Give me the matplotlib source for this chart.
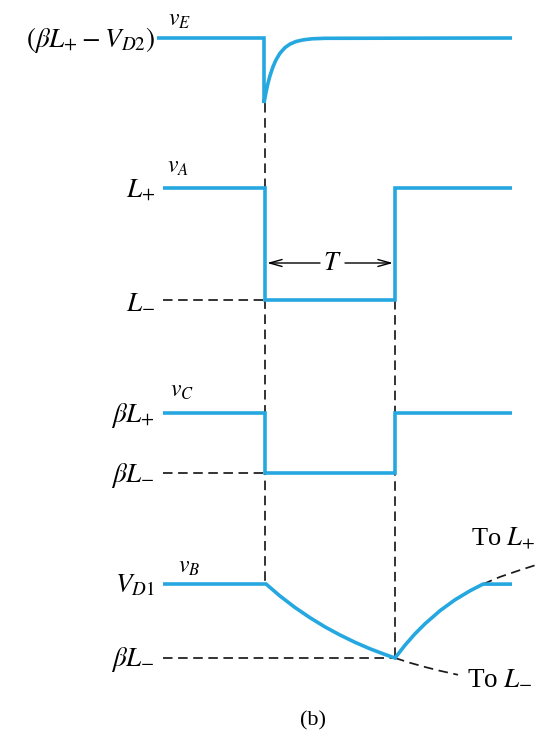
import matplotlib
matplotlib.use("Agg")
import matplotlib.pyplot as plt

plt.rcParams['mathtext.fontset'] = 'stix'
plt.rcParams['font.family'] = ['Liberation Serif', 'DejaVu Serif']

BLUE = '#25a8e0'
DASH = '#1a1a1a'

# time marks: trigger edge and end of the quasi-stable interval T
t_trig = 265
t_back = 395

# v_E: short negative spike at the trigger, then recovery
vE_t = [157, 264, 264, 266, 268, 270, 273, 276, 280, 285, 290, 296, 303, 312, 325, 512]
vE_y = [38, 38, 103, 92.2, 83.2, 75.7, 66.7, 59.9, 53.2, 47.6, 44.1, 41.5, 39.9, 38.8, 38.3, 38]

# v_A: L+ -> L- for T, then back
vA_t = [163, 265, 265, 395, 395, 512]
vA_y = [188, 188, 300, 300, 188, 188]

# v_C: beta L+ -> beta L-
vC_t = [163, 265, 265, 395, 395, 512]
vC_y = [413, 413, 473, 473, 413, 413]

# v_B: V_D1, exponential fall toward L-, then exponential rise toward L+
vB_t = [163, 266, 280, 295, 310, 325, 340, 355, 370, 385, 395,
        405, 415, 425, 440, 455, 470, 483, 512]
vB_y = [584, 584, 596.0, 607.5, 617.7, 626.9, 635.0, 642.3, 648.8, 654.5, 658,
        645.2, 633.8, 623.8, 610.7, 599.8, 590.8, 584.1, 584.1]

# asymptote continuations of v_B
toLm_t = [395, 410, 425, 440, 458]
toLm_y = [658, 662.8, 667.0, 670.8, 674.8]
toLp_t = [483, 500, 520, 536]
toLp_y = [584.1, 576.9, 570.1, 565.0]

# level labels on the left
level_labels = [r'$(\beta L_{+} - V_{D2})$', r'$L_{+}$', r'$L_{-}$',
                r'$\beta L_{+}$', r'$\beta L_{-}$', r'$V_{D1}$', r'$\beta L_{-}$']
level_y = [38, 188, 300, 413, 473, 584, 658]

trace_names = [r'$v_E$', r'$v_A$', r'$v_C$', r'$v_B$']
trace_pos = [(168, 20), (167, 167), (170, 392), (178, 567)]

fig = plt.figure(figsize=(5.4, 7.33), dpi=100)
ax = fig.add_axes([0, 0, 1, 1])
ax.set_xlim(0, 540)
ax.set_ylim(733, 0)
ax.axis('off')

dash_kw = dict(color=DASH, lw=1.25, dashes=(5.5, 3.2))

# vertical guides at the two switching instants
ax.plot([t_trig, t_trig], [103, 584], **dash_kw)
ax.plot([t_back, t_back], [300, 658], **dash_kw)
# horizontal guides to the low levels
ax.plot([163, t_trig], [300, 300], **dash_kw)
ax.plot([163, t_trig], [473, 473], **dash_kw)
ax.plot([163, t_back], [658, 658], **dash_kw)
ax.plot(toLm_t, toLm_y, **dash_kw)
ax.plot(toLp_t, toLp_y, **dash_kw)

line_kw = dict(color=BLUE, lw=2.6, solid_joinstyle='miter', solid_capstyle='butt')
ax.plot(vE_t, vE_y, **line_kw)
ax.plot(vA_t, vA_y, **line_kw)
ax.plot(vC_t, vC_y, **line_kw)
ax.plot(vB_t, vB_y, **line_kw)

for lab, y in zip(level_labels, level_y):
    ax.text(155, y + 2, lab, fontsize=19.5, ha='right', va='center')

for lab, (x, y) in zip(trace_names, trace_pos):
    ax.text(x, y, lab, fontsize=17, ha='left', va='center')

# pulse width T
arr_kw = dict(arrowstyle='->,head_length=0.9,head_width=0.25', color='black', lw=1.0,
              shrinkA=0, shrinkB=0)
ax.annotate('', xy=(267, 263), xytext=(320, 263), arrowprops=arr_kw)
ax.annotate('', xy=(393, 263), xytext=(345, 263), arrowprops=arr_kw)
ax.text(332, 264, r'$T$', fontsize=19, ha='center', va='center')

ax.text(467, 677, r'To $L_{-}$', fontsize=19.5, ha='left', va='center')
ax.text(471, 539, r'To $L_{+}$', fontsize=19, ha='left', va='center')

ax.text(313, 721, '(b)', fontsize=16, ha='center', va='center')

fig.savefig('out.png', dpi=100)
